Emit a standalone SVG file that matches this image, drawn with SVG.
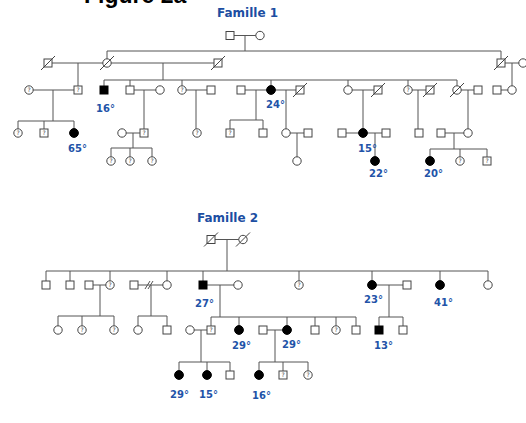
<svg xmlns="http://www.w3.org/2000/svg" width="526" height="423" viewBox="0 0 526 423">
<style>
.ln{stroke:#555;stroke-width:1;fill:none}
.s{fill:#fff;stroke:#444;stroke-width:1}
.f{fill:#000;stroke:#000;stroke-width:1}
.d{stroke:#444;stroke-width:1}
.q{font-family:"DejaVu Sans",sans-serif;font-size:6px;fill:#444;text-anchor:middle}
.lb{font-family:"DejaVu Sans",sans-serif;font-weight:bold;font-size:10px;fill:#2253a8}
.tt{font-family:"DejaVu Sans",sans-serif;font-weight:bold;font-size:12px;fill:#1c4ea2}
.fig{font-family:"Liberation Sans",Arial,sans-serif;font-weight:bold;font-size:23px;fill:#000}
</style>
<defs>
<rect id="S" x="-4" y="-4" width="8" height="8" class="s"/>
<circle id="C" r="4.2" class="s"/>
<rect id="SF" x="-4" y="-4" width="8" height="8" class="f"/>
<circle id="CF" r="4.4" class="f"/>
<line id="D" x1="-7" y1="7" x2="7" y2="-7" class="d"/>
</defs>
<text class="fig" x="84" y="3">Figure 2a</text>
<text class="tt" x="217" y="17">Famille 1</text>
<text class="tt" x="197" y="222">Famille 2</text>
<g id="connectors">
<path class="ln" d="M230 35.5H260M245 35.5V51M107 51H501M107 51V63M501 51V63M48 63H218M78 63V90M163 63V80M104 80H457M104 80V90M130 80V90M182 80V90M271 80V90M348 80V90M408 80V90M457 80V90M501 63H523M512 63V90M497 90H512"/>
<path class="ln" d="M29 90H78M53 90V121M18 121H74M18 121V133M44 121V133M74 121V133M130 90H160M144 90V133M182 90H211M196 90V133M241 90H300M256 90V120M230 120H263M230 120V133M263 120V133M286 90V133M348 90H378M363 90V133M408 90H430M418 90V133M457 90H478M468 90V133"/>
<path class="ln" d="M122 133H144M133 133V148M111 148H152M111 148V161M130 148V161M152 148V161M286 133H308M297 133V161M342 133H386M375 133V161M441 133H468M454 133V149M430 149H487M430 149V161M460 149V161M487 149V161"/>
<path class="ln" d="M211 239.5H243M227 239.5V271M46 271H488M46 271V285M70 271V285M110 271V285M167 271V285M203 271V285M299 271V285M372 271V285M440 271V285M488 271V285"/>
<path class="ln" d="M89 285H110M100 285V316M58 316H114M58 316V330M82 316V330M114 316V330M134 285H167M145 289L150 281M148 289L153 281M151 285V316M138 316H167M138 316V330M167 316V330M203 285H238M220 285V317M211 317H356M211 317V330M239 317V330M287 317V330M315 317V330M336 317V330M356 317V330M372 285H407M389 285V317M379 317H403M379 317V330M403 317V330"/>
<path class="ln" d="M190 330H211M201 330V362M179 362H230M179 362V375M207 362V375M230 362V375M263 330H287M275 330V362M259 362H308M259 362V375M283 362V375M308 362V375"/>
</g>
<g id="f1-gen1">
<g id="n1"><use href="#S" x="230" y="35.5"/></g>
<g id="n2"><use href="#C" x="260" y="35.5"/></g>
</g>
<g id="f1-gen2">
<g id="n3"><use href="#S" x="48" y="63"/><use href="#D" x="48" y="63"/></g>
<g id="n4"><use href="#C" x="107" y="63"/><use href="#D" x="107" y="63"/></g>
<g id="n5"><use href="#S" x="218" y="63"/><use href="#D" x="218" y="63"/></g>
<g id="n6"><use href="#S" x="501" y="63"/><use href="#D" x="501" y="63"/></g>
<g id="n7"><use href="#C" x="523" y="63"/></g>
</g>
<g id="f1-gen3">
<g id="n8"><use href="#C" x="29" y="90"/><text class="q" x="29" y="92">?</text></g>
<g id="n9"><use href="#S" x="78" y="90"/><text class="q" x="78" y="92">?</text></g>
<g id="n10"><use href="#SF" x="104" y="90"/><text class="lb" x="96" y="112">16°</text></g>
<g id="n11"><use href="#S" x="130" y="90"/></g>
<g id="n12"><use href="#C" x="160" y="90"/></g>
<g id="n13"><use href="#C" x="182" y="90"/><text class="q" x="182" y="92">?</text></g>
<g id="n14"><use href="#S" x="211" y="90"/></g>
<g id="n15"><use href="#S" x="241" y="90"/></g>
<g id="n16"><use href="#CF" x="271" y="90"/><text class="lb" x="266" y="108">24°</text></g>
<g id="n17"><use href="#S" x="300" y="90"/><use href="#D" x="300" y="90"/></g>
<g id="n18"><use href="#C" x="348" y="90"/></g>
<g id="n19"><use href="#S" x="378" y="90"/><use href="#D" x="378" y="90"/></g>
<g id="n20"><use href="#C" x="408" y="90"/><text class="q" x="408" y="92">?</text></g>
<g id="n21"><use href="#S" x="430" y="90"/><use href="#D" x="430" y="90"/></g>
<g id="n22"><use href="#C" x="457" y="90"/><use href="#D" x="457" y="90"/></g>
<g id="n23"><use href="#S" x="478" y="90"/></g>
<g id="n24"><use href="#S" x="497" y="90"/></g>
<g id="n25"><use href="#C" x="512" y="90"/></g>
</g>
<g id="f1-gen4">
<g id="n26"><use href="#C" x="18" y="133"/><text class="q" x="18" y="135">?</text></g>
<g id="n27"><use href="#S" x="44" y="133"/><text class="q" x="44" y="135">?</text></g>
<g id="n28"><use href="#CF" x="74" y="133"/><text class="lb" x="68" y="152">65°</text></g>
<g id="n29"><use href="#C" x="122" y="133"/></g>
<g id="n30"><use href="#S" x="144" y="133"/><text class="q" x="144" y="135">?</text></g>
<g id="n31"><use href="#C" x="197" y="133"/><text class="q" x="197" y="135">?</text></g>
<g id="n32"><use href="#S" x="230" y="133"/><text class="q" x="230" y="135">?</text></g>
<g id="n33"><use href="#S" x="263" y="133"/></g>
<g id="n34"><use href="#C" x="286" y="133"/></g>
<g id="n35"><use href="#S" x="308" y="133"/></g>
<g id="n36"><use href="#S" x="342" y="133"/></g>
<g id="n37"><use href="#CF" x="363" y="133"/><text class="lb" x="358" y="152">15°</text></g>
<g id="n38"><use href="#S" x="386" y="133"/></g>
<g id="n39"><use href="#S" x="419" y="133"/></g>
<g id="n40"><use href="#S" x="441" y="133"/></g>
<g id="n41"><use href="#C" x="468" y="133"/></g>
</g>
<g id="f1-gen5">
<g id="n42"><use href="#C" x="111" y="161"/><text class="q" x="111" y="163">?</text></g>
<g id="n43"><use href="#C" x="130" y="161"/><text class="q" x="130" y="163">?</text></g>
<g id="n44"><use href="#C" x="152" y="161"/><text class="q" x="152" y="163">?</text></g>
<g id="n45"><use href="#C" x="297" y="161"/></g>
<g id="n46"><use href="#CF" x="375" y="161"/><text class="lb" x="369" y="177">22°</text></g>
<g id="n47"><use href="#CF" x="430" y="161"/><text class="lb" x="424" y="177">20°</text></g>
<g id="n48"><use href="#C" x="460" y="161"/><text class="q" x="460" y="163">?</text></g>
<g id="n49"><use href="#S" x="487" y="161"/><text class="q" x="487" y="163">?</text></g>
</g>
<g id="f2-gen1">
<g id="m1"><use href="#S" x="211" y="239.5"/><use href="#D" x="211" y="239.5"/></g>
<g id="m2"><use href="#C" x="243" y="239.5"/><use href="#D" x="243" y="239.5"/></g>
</g>
<g id="f2-gen2">
<g id="m3"><use href="#S" x="46" y="285"/></g>
<g id="m4"><use href="#S" x="70" y="285"/></g>
<g id="m5"><use href="#S" x="89" y="285"/></g>
<g id="m6"><use href="#C" x="110" y="285"/><text class="q" x="110" y="287">?</text></g>
<g id="m7"><use href="#S" x="134" y="285"/></g>
<g id="m8"><use href="#C" x="167" y="285"/></g>
<g id="m9"><use href="#SF" x="203" y="285"/><text class="lb" x="195" y="307">27°</text></g>
<g id="m10"><use href="#C" x="238" y="285"/></g>
<g id="m11"><use href="#C" x="299" y="285"/><text class="q" x="299" y="287">?</text></g>
<g id="m12"><use href="#CF" x="372" y="285"/><text class="lb" x="364" y="303">23°</text></g>
<g id="m13"><use href="#S" x="407" y="285"/></g>
<g id="m14"><use href="#CF" x="440" y="285"/><text class="lb" x="434" y="306">41°</text></g>
<g id="m15"><use href="#C" x="488" y="285"/></g>
</g>
<g id="f2-gen3">
<g id="m16"><use href="#C" x="58" y="330"/></g>
<g id="m17"><use href="#C" x="82" y="330"/><text class="q" x="82" y="332">?</text></g>
<g id="m18"><use href="#C" x="114" y="330"/><text class="q" x="114" y="332">?</text></g>
<g id="m19"><use href="#C" x="138" y="330"/></g>
<g id="m20"><use href="#S" x="167" y="330"/></g>
<g id="m21"><use href="#C" x="190" y="330"/></g>
<g id="m22"><use href="#S" x="211" y="330"/><text class="q" x="211" y="332">?</text></g>
<g id="m23"><use href="#CF" x="239" y="330"/><text class="lb" x="232" y="349">29°</text></g>
<g id="m24"><use href="#S" x="263" y="330"/></g>
<g id="m25"><use href="#CF" x="287" y="330"/><text class="lb" x="282" y="348">29°</text></g>
<g id="m26"><use href="#S" x="315" y="330"/></g>
<g id="m27"><use href="#C" x="336" y="330"/><text class="q" x="336" y="332">?</text></g>
<g id="m28"><use href="#S" x="356" y="330"/></g>
<g id="m29"><use href="#SF" x="379" y="330"/><text class="lb" x="374" y="349">13°</text></g>
<g id="m30"><use href="#S" x="403" y="330"/></g>
</g>
<g id="f2-gen4">
<g id="m31"><use href="#CF" x="179" y="375"/><text class="lb" x="170" y="398">29°</text></g>
<g id="m32"><use href="#CF" x="207" y="375"/><text class="lb" x="199" y="398">15°</text></g>
<g id="m33"><use href="#S" x="230" y="375"/></g>
<g id="m34"><use href="#CF" x="259" y="375"/><text class="lb" x="252" y="399">16°</text></g>
<g id="m35"><use href="#S" x="283" y="375"/><text class="q" x="283" y="377">?</text></g>
<g id="m36"><use href="#C" x="308" y="375"/><text class="q" x="308" y="377">?</text></g>
</g>
</svg>
